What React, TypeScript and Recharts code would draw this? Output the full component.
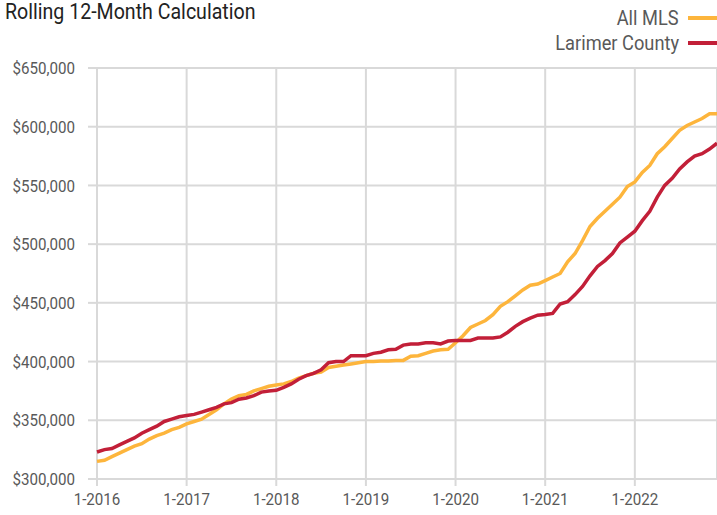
import React from "react";
import { LineChart, Line, XAxis, YAxis, CartesianGrid } from "recharts";

// monthly rolling 12-month values, 1-2016 .. 12-2022
const allMls = [
  315000, 316000, 319000, 322000, 325000, 328000, 330000, 334000, 337000, 339000, 342000, 344000,
  347000, 349000, 351000, 355000, 359000, 364000, 368000, 371000, 372000, 375000, 377000, 379000,
  380000, 381000, 383000, 386000, 388000, 390000, 391000, 395000, 396000, 397000, 398000, 399000,
  400000, 400000, 400500, 400500, 401000, 401000, 404500, 405000, 407000, 409000, 410000, 410500,
  416000, 422000, 429000, 432000, 435000, 440000, 447000, 451000, 456000, 461000, 465000, 466000,
  469000, 472000, 475000, 485000, 492000, 503000, 515000, 522000, 528000, 534000, 540000, 549000,
  553000, 561000, 567000, 577000, 583000, 590000, 597000, 601000, 604000, 607000, 611000, 611000,
];

const larimer = [
  323000, 325000, 326000, 329000, 332000, 335000, 339000, 342000, 345000, 349000, 351000, 353000,
  354000, 355000, 357000, 359000, 361000, 364000, 365000, 368000, 369000, 371000, 374000, 375000,
  375500, 378000, 381000, 385000, 388000, 390000, 393000, 399000, 400000, 400000, 405000, 405000,
  405000, 407000, 408000, 410000, 410500, 414000, 415000, 415000, 416000, 416000, 415000, 417500,
  418000, 418000, 418000, 420000, 420000, 420000, 421000, 425000, 430000, 434000, 437000, 439500,
  440000, 441000, 449000, 451000, 457000, 464000, 473000, 481000, 486000, 492000, 501000, 506000,
  511000, 520000, 528000, 540000, 550000, 556000, 564000, 570000, 575000, 577000, 581000, 586000,
];

const yearTickIdx = [0, 12, 24, 36, 48, 60, 72];
const yearLabels = ["1-2016", "1-2017", "1-2018", "1-2019", "1-2020", "1-2021", "1-2022"];
const yTicks = [300000, 350000, 400000, 450000, 500000, 550000, 600000, 650000];

const data = allMls.map((v, i) => ({ i, allMls: v, larimer: larimer[i] }));

const FONT = "Roboto, 'Liberation Sans', sans-serif";
const ORANGE = "#FDB53C";
const RED = "#C21F38";
const GRID = "#d9d9d9";
const LABEL = "#595959";
const SQUEEZE = 0.89;

const YTick = (props: any) => {
  const { x, y, payload } = props;
  return (
    <g transform={`translate(${x},${y}) scale(${SQUEEZE},1)`}>
      <text x={0} y={0} dy="0.36em" textAnchor="end" fill={LABEL} fontSize={17} fontFamily={FONT}>
        {"$" + payload.value.toLocaleString("en-US")}
      </text>
    </g>
  );
};

const XTick = (props: any) => {
  const { x, y, payload } = props;
  return (
    <g transform={`translate(${x},${y}) scale(${SQUEEZE},1)`}>
      <text x={0} y={0} dy="0.71em" textAnchor="middle" fill={LABEL} fontSize={17} fontFamily={FONT}>
        {yearLabels[yearTickIdx.indexOf(payload.value)]}
      </text>
    </g>
  );
};

const series = [
  { name: "All MLS", color: ORANGE },
  { name: "Larimer County", color: RED },
];

export default function App() {
  return (
    <div style={{ position: "absolute", left: 0, top: 0, width: 717, height: 515, background: "#fff", overflow: "hidden" }}>
      <div
        style={{
          position: "absolute",
          left: 5,
          top: 0,
          fontFamily: FONT,
          fontSize: 22,
          lineHeight: "24px",
          color: "#222",
          transform: `scaleX(${SQUEEZE})`,
          transformOrigin: "left top",
          whiteSpace: "nowrap",
        }}
      >
        Rolling 12-Month Calculation
      </div>
      <div
        style={{
          position: "absolute",
          right: 0,
          top: 5,
          fontFamily: FONT,
          fontSize: 20.5,
          color: LABEL,
        }}
      >
        {series.map((s) => (
          <div key={s.name} style={{ display: "flex", alignItems: "center", justifyContent: "flex-end", height: 25 }}>
            <span style={{ display: "inline-block", transform: `scaleX(${SQUEEZE})`, transformOrigin: "right center", whiteSpace: "nowrap" }}>
              {s.name}
            </span>
            <span style={{ display: "inline-block", width: 29, height: 4, background: s.color, marginLeft: 9 }} />
          </div>
        ))}
      </div>
      <LineChart width={717} height={515} data={data} margin={{ top: 68, right: 0, bottom: 6, left: 0 }}>
        <CartesianGrid stroke={GRID} strokeWidth={2} />
        <XAxis
          type="number"
          dataKey="i"
          domain={[0, 83]}
          ticks={yearTickIdx}
          interval={0}
          height={30}
          tick={<XTick />}
          tickLine={{ stroke: GRID, strokeWidth: 2 }}
          tickSize={7}
          tickMargin={7}
          axisLine={{ stroke: GRID, strokeWidth: 2 }}
        />
        <YAxis
          width={97}
          domain={[300000, 650000]}
          ticks={yTicks}
          interval={0}
          tick={<YTick />}
          tickLine={{ stroke: GRID, strokeWidth: 2 }}
          tickSize={9}
          tickMargin={13}
          axisLine={false}
        />
        <Line dataKey="allMls" stroke={ORANGE} strokeWidth={3.5} dot={false} isAnimationActive={false} />
        <Line dataKey="larimer" stroke={RED} strokeWidth={3.5} dot={false} isAnimationActive={false} />
      </LineChart>
    </div>
  );
}
